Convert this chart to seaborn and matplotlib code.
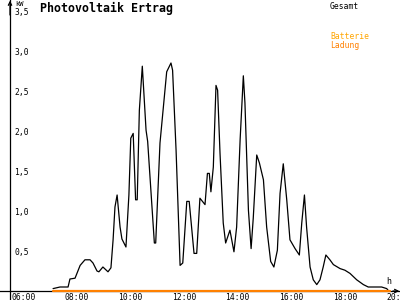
import matplotlib
matplotlib.use('Agg')
import matplotlib.pyplot as plt
import seaborn as sns
import pandas as pd
from matplotlib.transforms import ScaledTranslation

# Gesamt (kW) over time of day (decimal hours)
hours = [7.42, 7.68, 7.98, 8.05, 8.24, 8.43, 8.61, 8.80, 8.91, 9.06, 9.13, 9.28,
         9.47, 9.58, 9.66, 9.73, 9.81, 9.92, 9.99, 10.14, 10.25, 10.32, 10.41,
         10.50, 10.56, 10.64, 10.75, 10.89, 10.95, 11.20, 11.25, 11.41, 11.66,
         11.82, 11.88, 12.01, 12.16, 12.26, 12.41, 12.50, 12.68, 12.78, 12.90,
         13.09, 13.18, 13.25, 13.31, 13.40, 13.50, 13.56, 13.65, 13.77, 13.86,
         14.02, 14.17, 14.27, 14.40, 14.52, 14.58, 14.71, 14.81, 14.89, 15.02,
         15.12, 15.27, 15.39, 15.54, 15.66, 15.79, 15.89, 16.01, 16.14, 16.26,
         16.45, 16.61, 16.70, 16.80, 16.88, 17.01, 17.13, 17.26, 17.38, 17.50,
         17.60, 17.75, 17.88, 18.13, 18.31, 18.50, 18.75, 19.00, 19.18, 19.37,
         19.68, 19.87, 19.92]
kw = [0.03, 0.05, 0.05, 0.15, 0.16, 0.32, 0.39, 0.39, 0.35, 0.25, 0.24, 0.30,
      0.24, 0.29, 0.64, 1.05, 1.20, 0.80, 0.65, 0.55, 1.20, 1.91, 1.97,
      1.14, 1.14, 2.26, 2.81, 2.01, 1.87, 0.60, 0.60, 1.85, 2.74,
      2.85, 2.76, 1.76, 0.32, 0.35, 1.12, 1.12, 0.47, 0.47, 1.16,
      1.08, 1.47, 1.47, 1.24, 1.55, 2.57, 2.51, 1.72, 0.85, 0.60,
      0.76, 0.49, 0.80, 1.89, 2.69, 2.35, 1.01, 0.53, 0.91, 1.70,
      1.60, 1.39, 0.80, 0.37, 0.30, 0.51, 1.22, 1.59, 1.14, 0.64,
      0.53, 0.45, 0.85, 1.20, 0.80, 0.30, 0.14, 0.08, 0.14, 0.30,
      0.45, 0.39, 0.33, 0.28, 0.26, 0.22, 0.14, 0.08, 0.05, 0.05,
      0.05, 0.03, 0.01]

# Batterie Ladung (kW)
charge_hours = [7.42, 20.0]
charge_kw = [0.0, 0.0]

x_ticks = [6, 8, 10, 12, 14, 16, 18, 20]
x_tick_labels = ['06:00', '08:00', '10:00', '12:00', '14:00', '16:00', '18:00', '20:00']
y_ticks = [0.5, 1.0, 1.5, 2.0, 2.5, 3.0, 3.5]
y_tick_labels = ['0,5', '1,0', '1,5', '2,0', '2,5', '3,0', '3,5']

sns.set_theme(style='white')
plt.rcParams['font.family'] = ['DejaVu Sans Mono', 'DejaVu Sans']

fig = plt.figure(figsize=(4, 3), dpi=100)
ax = fig.add_axes([0, 0, 1, 1])
ax.set_facecolor('white')

df = pd.DataFrame({'h': hours, 'kw': kw})
sns.lineplot(data=df, x='h', y='kw', color='black', lw=0.9, ax=ax,
             estimator=None, sort=False)
sns.lineplot(x=charge_hours, y=charge_kw, color='#ff8000', lw=1.6, ax=ax,
             estimator=None, sort=False, zorder=5)

ax.set_xlim(5.44, 20.366)
ax.set_ylim(-0.1125, 3.6375)
ax.set_xlabel('')
ax.set_ylabel('')

x0 = 5.813
ax.spines['left'].set_position(('data', x0))
ax.spines['bottom'].set_position(('data', 0))
ax.spines['top'].set_visible(False)
ax.spines['right'].set_visible(False)
for s in ('left', 'bottom'):
    ax.spines[s].set_color('black')
    ax.spines[s].set_linewidth(0.9)

ax.set_xticks(x_ticks, x_tick_labels)
ax.set_yticks(y_ticks, y_tick_labels)
ax.tick_params(axis='both', direction='inout', length=4.5, width=0.8,
               labelsize=5.8, colors='black', pad=0.5)
ax.tick_params(axis='y', pad=0)

for lab in ax.get_yticklabels():
    lab.set_horizontalalignment('left')
    lab.set_transform(lab.get_transform() + ScaledTranslation(0.075, 0, fig.dpi_scale_trans))
for lab in ax.get_xticklabels():
    lab.set_horizontalalignment('left')
    lab.set_transform(lab.get_transform() + ScaledTranslation(-0.04, 0.022, fig.dpi_scale_trans))

# arrows on axes
ax.annotate('', xy=(x0, 3.63), xytext=(x0, 3.45),
            arrowprops=dict(arrowstyle='->', lw=0.9, color='black',
                            shrinkA=0, shrinkB=0, mutation_scale=6))
ax.annotate('', xy=(20.34, 0), xytext=(20.1, 0),
            arrowprops=dict(arrowstyle='->', lw=0.9, color='black',
                            shrinkA=0, shrinkB=0, mutation_scale=6))

ax.text(40 / 400, 1 - 2 / 300, 'Photovoltaik Ertrag', transform=ax.transAxes,
        ha='left', va='top', fontsize=8.4, fontweight='bold', color='black')
ax.text(15 / 400, 1 - 1 / 300, 'kW', transform=ax.transAxes,
        ha='left', va='top', fontsize=5, color='black')
ax.text(386 / 400, 1 - 277 / 300, 'h', transform=ax.transAxes,
        ha='left', va='top', fontsize=6, color='black')

ax.text(330 / 400, 1 - 2 / 300, 'Gesamt', transform=ax.transAxes,
        ha='left', va='top', fontsize=5.8, color='black')
ax.text(330 / 400, 1 - 32 / 300, 'Batterie', transform=ax.transAxes,
        ha='left', va='top', fontsize=5.8, color='#ffa500')
ax.text(330 / 400, 1 - 41 / 300, 'Ladung', transform=ax.transAxes,
        ha='left', va='top', fontsize=5.8, color='#ff8000')

fig.savefig('out.png', dpi=100, facecolor='white')
